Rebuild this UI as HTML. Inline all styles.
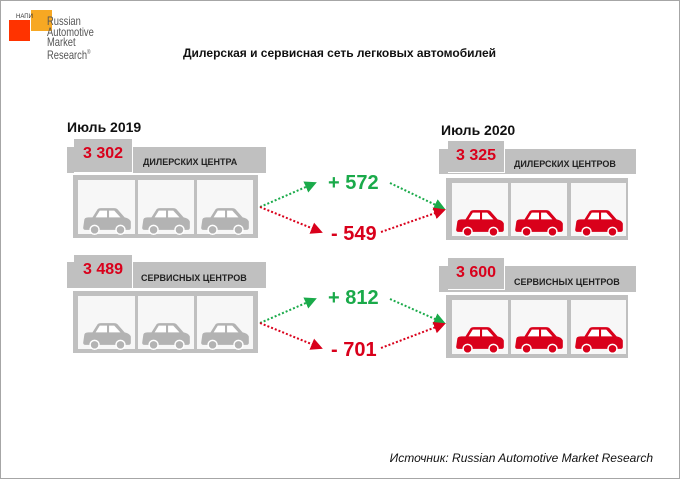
<!DOCTYPE html>
<html><head><meta charset="utf-8"><style>
body{margin:0;background:#fff;}
.wrap{position:relative;width:678px;height:477px;border:1px solid #a6a6a6;overflow:hidden;font-family:"Liberation Sans",Arial,sans-serif;}
.t{position:absolute;white-space:nowrap;}
</style></head><body><div class="wrap">
<svg width="680" height="479" style="position:absolute;left:-1px;top:-1px">
<defs>
<symbol id="car" viewBox="0 0 48 28">
<path d="M2 14 Q2 11 6 11 L10 11 L15 3 Q16 2 18 2 L31 2 Q33 2 34 3 L41 11 Q46 12 47 15 L47 21 Q47 23 45 23 L3 23 Q1 23 1 21 Z" fill="currentColor"/>
<path d="M13 11 L17 4.5 L24 4.5 L24 11 Z M26 4.5 L31 4.5 L37 11 L26 11 Z" fill="#fff"/>
<circle cx="12" cy="23" r="5" fill="#fff"/><circle cx="12" cy="23" r="3.6" fill="currentColor"/>
<circle cx="37" cy="23" r="5" fill="#fff"/><circle cx="37" cy="23" r="3.6" fill="currentColor"/>
</symbol>
<marker id="ag" markerWidth="6" markerHeight="6" refX="5" refY="3" orient="auto"><path d="M0 0 L6 3 L0 6Z" fill="#1aaa4a"/></marker>
<marker id="ar" markerWidth="6" markerHeight="6" refX="5" refY="3" orient="auto"><path d="M0 0 L6 3 L0 6Z" fill="#d9001b"/></marker>
</defs>
<rect x="9" y="20" width="21" height="21" fill="#ff3300"/>
<rect x="31" y="10" width="21" height="21" fill="#f7a823"/>
<g fill="#c0c0c0">
<rect x="67" y="147" width="199" height="26"/><rect x="73" y="175" width="185" height="63"/>
<rect x="439" y="149" width="197" height="25"/><rect x="446" y="178" width="182" height="62"/>
<rect x="67" y="262" width="199" height="26"/><rect x="73" y="291" width="185" height="62"/>
<rect x="439" y="266" width="197" height="26"/><rect x="446" y="295" width="182" height="63"/>
</g>
<g fill="#fff">
<rect x="74" y="139" width="59" height="34"/><rect x="448" y="141" width="57" height="32"/>
<rect x="74" y="255" width="59" height="34"/><rect x="448" y="258" width="57" height="32"/>
</g>
<g fill="#c0c0c0">
<rect x="74" y="139" width="58" height="33"/><rect x="448" y="141" width="56" height="31"/>
<rect x="74" y="255" width="58" height="33"/><rect x="448" y="258" width="56" height="31"/>
</g>
<g fill="#f7f7f7">
<rect x="78" y="180" width="57" height="54"/><rect x="138" y="180" width="56" height="54"/><rect x="197" y="180" width="56" height="54"/>
<rect x="78" y="296" width="57" height="53"/><rect x="138" y="296" width="56" height="53"/><rect x="197" y="296" width="56" height="53"/>
<rect x="452" y="183" width="56" height="53"/><rect x="511" y="183" width="56" height="53"/><rect x="571" y="183" width="55" height="53"/>
<rect x="452" y="300" width="56" height="54"/><rect x="511" y="300" width="56" height="54"/><rect x="571" y="300" width="55" height="54"/>
</g>
<g color="#b3b3b3">
<use href="#car" x="82" y="206" width="50" height="29"/><use href="#car" x="141" y="206" width="50" height="29"/><use href="#car" x="200" y="206" width="50" height="29"/>
<use href="#car" x="82" y="321" width="50" height="29"/><use href="#car" x="141" y="321" width="50" height="29"/><use href="#car" x="200" y="321" width="50" height="29"/>
</g>
<g color="#d9001b">
<use href="#car" x="455" y="208" width="50" height="29"/><use href="#car" x="514" y="208" width="50" height="29"/><use href="#car" x="574" y="208" width="50" height="29"/>
<use href="#car" x="455" y="325" width="50" height="29"/><use href="#car" x="514" y="325" width="50" height="29"/><use href="#car" x="574" y="325" width="50" height="29"/>
</g>
<g fill="none" stroke-width="2" stroke-dasharray="2 2">
<path d="M260 207 L315 183" stroke="#1aaa4a" marker-end="url(#ag)"/>
<path d="M390 183 L444 209" stroke="#1aaa4a" marker-end="url(#ag)"/>
<path d="M260 207 L321 232" stroke="#d9001b" marker-end="url(#ar)"/>
<path d="M381 232 L444 210" stroke="#d9001b" marker-end="url(#ar)"/>
<path d="M260 323 L315 299" stroke="#1aaa4a" marker-end="url(#ag)"/>
<path d="M390 299 L444 323" stroke="#1aaa4a" marker-end="url(#ag)"/>
<path d="M260 323 L321 348" stroke="#d9001b" marker-end="url(#ar)"/>
<path d="M381 348 L444 324" stroke="#d9001b" marker-end="url(#ar)"/>
</g>
</svg>
<div class="t" style="left:15px;top:13px;font-size:6px;color:#333">НАПИ</div>
<div class="t" style="left:46px;top:15px;font-size:12px;line-height:10.5px;color:#555;transform:scaleX(.78);transform-origin:left">Russian<br>Automotive<br>Market<br>Research<sup style="font-size:6px">®</sup></div>
<div class="t" style="left:182px;top:45px;font-size:12px;font-weight:bold;color:#111">Дилерская и сервисная сеть легковых автомобилей</div>
<div class="t" style="left:66px;top:118px;font-size:14px;font-weight:bold;color:#111">Июль 2019</div>
<div class="t" style="left:440px;top:121px;font-size:14px;font-weight:bold;color:#111">Июль 2020</div>
<div class="t" style="left:82px;top:144px;font-size:16px;font-weight:bold;color:#d9001b">3 302</div>
<div class="t" style="left:142px;top:156px;font-size:9px;font-weight:bold;color:#222">ДИЛЕРСКИХ ЦЕНТРА</div>
<div class="t" style="left:455px;top:146px;font-size:16px;font-weight:bold;color:#d9001b">3 325</div>
<div class="t" style="left:513px;top:158px;font-size:9px;font-weight:bold;color:#222">ДИЛЕРСКИХ ЦЕНТРОВ</div>
<div class="t" style="left:82px;top:260px;font-size:16px;font-weight:bold;color:#d9001b">3 489</div>
<div class="t" style="left:140px;top:272px;font-size:9px;font-weight:bold;color:#222">СЕРВИСНЫХ ЦЕНТРОВ</div>
<div class="t" style="left:455px;top:263px;font-size:16px;font-weight:bold;color:#d9001b">3 600</div>
<div class="t" style="left:513px;top:276px;font-size:9px;font-weight:bold;color:#222">СЕРВИСНЫХ ЦЕНТРОВ</div>
<div class="t" style="left:327px;top:171px;font-size:20px;font-weight:bold;color:#1aaa4a">+ 572</div>
<div class="t" style="left:330px;top:222px;font-size:20px;font-weight:bold;color:#d9001b">- 549</div>
<div class="t" style="left:327px;top:286px;font-size:20px;font-weight:bold;color:#1aaa4a">+ 812</div>
<div class="t" style="left:330px;top:338px;font-size:20px;font-weight:bold;color:#d9001b">- 701</div>
<div class="t" style="right:26px;top:450px;font-size:12px;font-style:italic;color:#111">Источник: Russian Automotive Market Research</div>
</div></body></html>
